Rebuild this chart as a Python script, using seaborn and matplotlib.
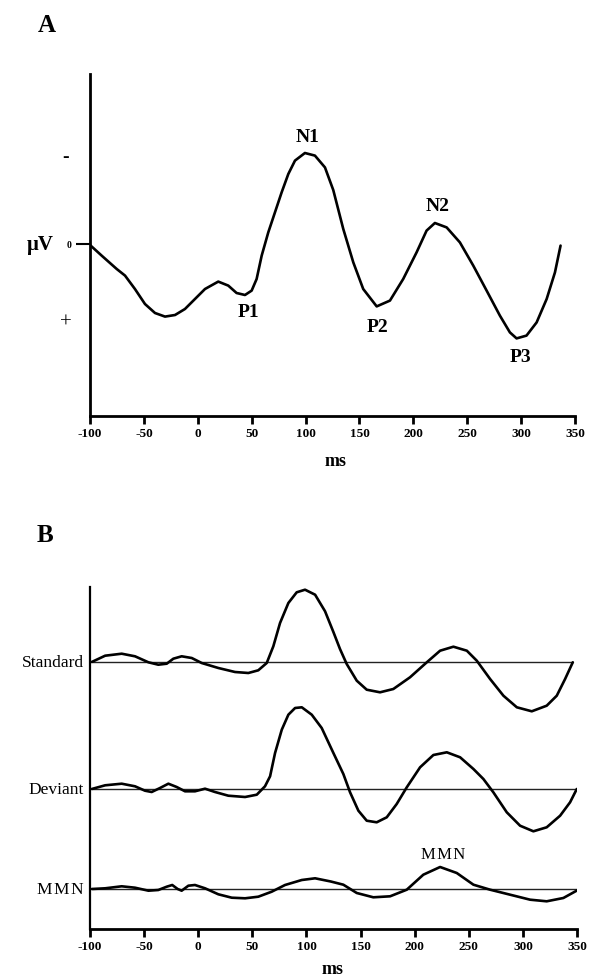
"""
ERP schematic: (A) idealised auditory ERP components, (B) standard, deviant
and difference (MMN) waveforms.
"""

import numpy as np
import pandas as pd
import matplotlib
matplotlib.use("Agg")
import matplotlib.pyplot as plt
import seaborn as sns

# ---- panel A: idealised ERP (negative up) ----
erp_ms = [-100, -89.2, -75.2, -67.5, -58.3, -49, -39.7, -30.4, -21.1, -11.9, -2.6, 6.7,
          19, 28.3, 36, 43.8, 50, 54.6, 59.3, 65.4, 71.6, 77.8, 84, 90.2, 99.4, 108.7,
          118, 125.7, 135, 144.3, 153.5, 166, 178.3, 190.6, 203, 212.3, 220, 230.9,
          243.2, 255.6, 268, 280.3, 289.6, 295.8, 305, 314.4, 323.7, 331.4, 336.6]
erp_uv = [0.05, 0.58, 1.25, 1.58, 2.25, 3.0, 3.45, 3.63, 3.55, 3.25, 2.75, 2.25,
          1.88, 2.08, 2.45, 2.55, 2.33, 1.75, 0.58, -0.58, -1.58, -2.58, -3.5, -4.17, -4.55, -4.42,
          -3.83, -2.7, -0.75, 0.92, 2.25, 3.12, 2.83, 1.75, 0.42, -0.67, -1.05, -0.83,
          -0.08, 1.08, 2.33, 3.58, 4.42, 4.72, 4.58, 3.92, 2.75, 1.42, 0.08]

peak_names = ["N1", "N2", "P1", "P2", "P3"]
peak_ms = [102, 223, 47, 167, 299]
peak_uv = [-5.35, -1.9, 3.4, 4.15, 5.65]

# ---- panel B: oddball waveforms ----
std_ms = [-98.4, -86, -70.7, -58.4, -46, -36.9, -29.1, -23, -15.3, -6, 3.2, 18.6, 34,
          46.3, 55.5, 63.3, 69.4, 75.6, 83.3, 91, 98.7, 108, 117.2, 124.9, 131, 137.2,
          146.5, 155.7, 168, 180.3, 195.7, 211.2, 223.5, 235.8, 248.2, 257.4, 269.7,
          282, 294.4, 308.2, 322, 331.3, 339, 346.1]
std_uv = [0, -0.63, -0.83, -0.57, 0.03, 0.27, 0.17, -0.33, -0.57, -0.4, 0.1, 0.6, 1.0,
          1.1, 0.83, 0.1, -1.57, -3.9, -5.9, -6.97, -7.23, -6.73, -5.07, -3.0, -1.3, 0.2,
          1.87, 2.77, 3.03, 2.7, 1.53, 0.03, -1.13, -1.53, -1.13, -0.13, 1.7,
          3.37, 4.53, 4.93, 4.37, 3.37, 1.7, 0.03]

dev_ms = [-98.4, -86, -70.7, -58.4, -49.2, -43, -35.3, -27.6, -19.9, -12.2, -3, 6.3, 15.5,
          27.8, 43.3, 54.1, 61.7, 66.4, 71, 77.2, 83.3, 89.5, 95.7, 104.9, 114.1, 124.9,
          134.1, 140.3, 148, 155.7, 164.9, 174.2, 183.4, 192.7, 205, 217.3, 229.7, 242,
          254.3, 263.5, 272.7, 285.1, 297.4, 309.7, 322, 334.4, 343.6, 349.8]
dev_uv = [0, -0.37, -0.53, -0.27, 0.17, 0.3, -0.1, -0.53, -0.2, 0.23, 0.23, -0.03, 0.3,
          0.67, 0.8, 0.57, -0.27, -1.27, -3.6, -5.93, -7.43, -8.1, -8.17, -7.43, -6.1, -3.6,
          -1.5, 0.33, 2.17, 3.17, 3.33, 2.83, 1.5, -0.17, -2.17, -3.4, -3.67, -3.17,
          -2.0, -1.0, 0.33, 2.33, 3.67, 4.23, 3.83, 2.67, 1.33, 0]

mmn_ms = [-98.4, -86, -70.7, -58.4, -46, -36.9, -29.1, -24, -19, -15.3, -9.1, -3, 6.3,
          18.6, 31, 43.3, 55.5, 67.9, 80.2, 95.7, 108, 122.5, 134.1, 146.5, 161.8, 177.3,
          192.7, 208, 223.5, 238.9, 254.3, 269.7, 288.2, 306.7, 322, 337.4, 351.3]
mmn_uv = [0, -0.07, -0.27, -0.13, 0.17, 0.1, -0.23, -0.4, 0, 0.17, -0.33, -0.4, -0.07,
          0.53, 0.87, 0.93, 0.77, 0.27, -0.4, -0.9, -1.07, -0.75, -0.43, 0.4, 0.83, 0.73,
          0.07, -1.43, -2.2, -1.6, -0.43, 0.07, 0.57, 1.07, 1.23, 0.9, 0.07]

wave_names = ["Standard", "Deviant", "M\u200aM\u200aN"]
wave_x = [std_ms, dev_ms, mmn_ms]
wave_y = [std_uv, dev_uv, mmn_uv]
wave_offset = [7.5, 20.2, 30.2]

xticks = [-100, -50, 0, 50, 100, 150, 200, 250, 300, 350]

sns.set_style("white")
plt.rcParams["font.family"] = ["Liberation Serif", "DejaVu Serif"]
plt.rcParams["text.color"] = "black"
plt.rcParams["xtick.color"] = "black"
plt.rcParams["ytick.color"] = "black"

W, H = 594, 978
fig = plt.figure(figsize=(W / 100, H / 100), dpi=100)


def rect(x0, y0, x1, y1):
    return [x0 / W, 1 - y1 / H, (x1 - x0) / W, (y1 - y0) / H]


def px(x, y):
    return x / W, 1 - y / H


def style_xaxis(ax):
    ax.set_xlim(-100, 350)
    ax.set_xticks(xticks)
    ax.set_xticklabels([str(t) for t in xticks], fontsize=9.5, fontweight="bold")
    ax.tick_params(axis="x", bottom=True, length=6, width=2, pad=2, direction="out")
    ax.spines["top"].set_visible(False)
    ax.spines["right"].set_visible(False)
    ax.spines["bottom"].set_linewidth(2)
    ax.spines["bottom"].set_color("black")
    ax.spines["left"].set_color("black")
    ax.set_xlabel("")
    ax.set_ylabel("")


line_kw = dict(color="black", linewidth=1.9, estimator=None,
               solid_joinstyle="round", solid_capstyle="round")

# ---- panel A ----
axA = fig.add_axes(rect(90, 75, 575, 417))
sns.lineplot(x=erp_ms, y=erp_uv, ax=axA, **line_kw)
axA.set_ylim(8.6, -8.5)
style_xaxis(axA)
axA.spines["left"].set_linewidth(2)
axA.set_yticks([0])
axA.set_yticklabels(["0"], fontsize=7, fontweight="bold")
axA.tick_params(axis="y", left=True, length=10, width=1.5, pad=3, direction="out")
for name, xm, yv in zip(peak_names, peak_ms, peak_uv):
    axA.text(xm, yv, name, ha="center", va="center", fontsize=14, fontweight="bold")

fig.text(*px(47, 25), "A", ha="center", va="center", fontsize=18, fontweight="bold")
fig.text(*px(40, 245), "\u03bcV", ha="center", va="center", fontsize=15, fontweight="bold")
fig.text(*px(66, 158), "-", ha="center", va="center", fontsize=14, fontweight="bold")
fig.text(*px(66, 323), "+", ha="center", va="center", fontsize=15)
fig.text(*px(336, 461), "ms", ha="center", va="center", fontsize=13, fontweight="bold")

# ---- panel B ----
axB = fig.add_axes(rect(90, 588, 577, 930))
for name, xs, ys, off in zip(wave_names, wave_x, wave_y, wave_offset):
    df = pd.DataFrame({"ms": xs, "uv": np.asarray(ys) + off})
    axB.plot([xs[0], xs[-1]], [off, off], color="#222222", linewidth=1.0)
    sns.lineplot(data=df, x="ms", y="uv", ax=axB, **line_kw)
axB.set_ylim(34.2, 0)
style_xaxis(axB)
axB.spines["left"].set_linewidth(1.6)
axB.set_yticks([])
axB.text(226, wave_offset[2] - 3.5, wave_names[2], ha="center", va="center", fontsize=12)

for name, y in zip(wave_names, [663, 790, 890]):
    fig.text(*px(84, y), name, ha="right", va="center", fontsize=12.5)

fig.text(*px(45, 535), "B", ha="center", va="center", fontsize=18, fontweight="bold")
fig.text(*px(333, 970), "ms", ha="center", va="center", fontsize=13, fontweight="bold")

fig.savefig("out.png", dpi=100, facecolor="white")
